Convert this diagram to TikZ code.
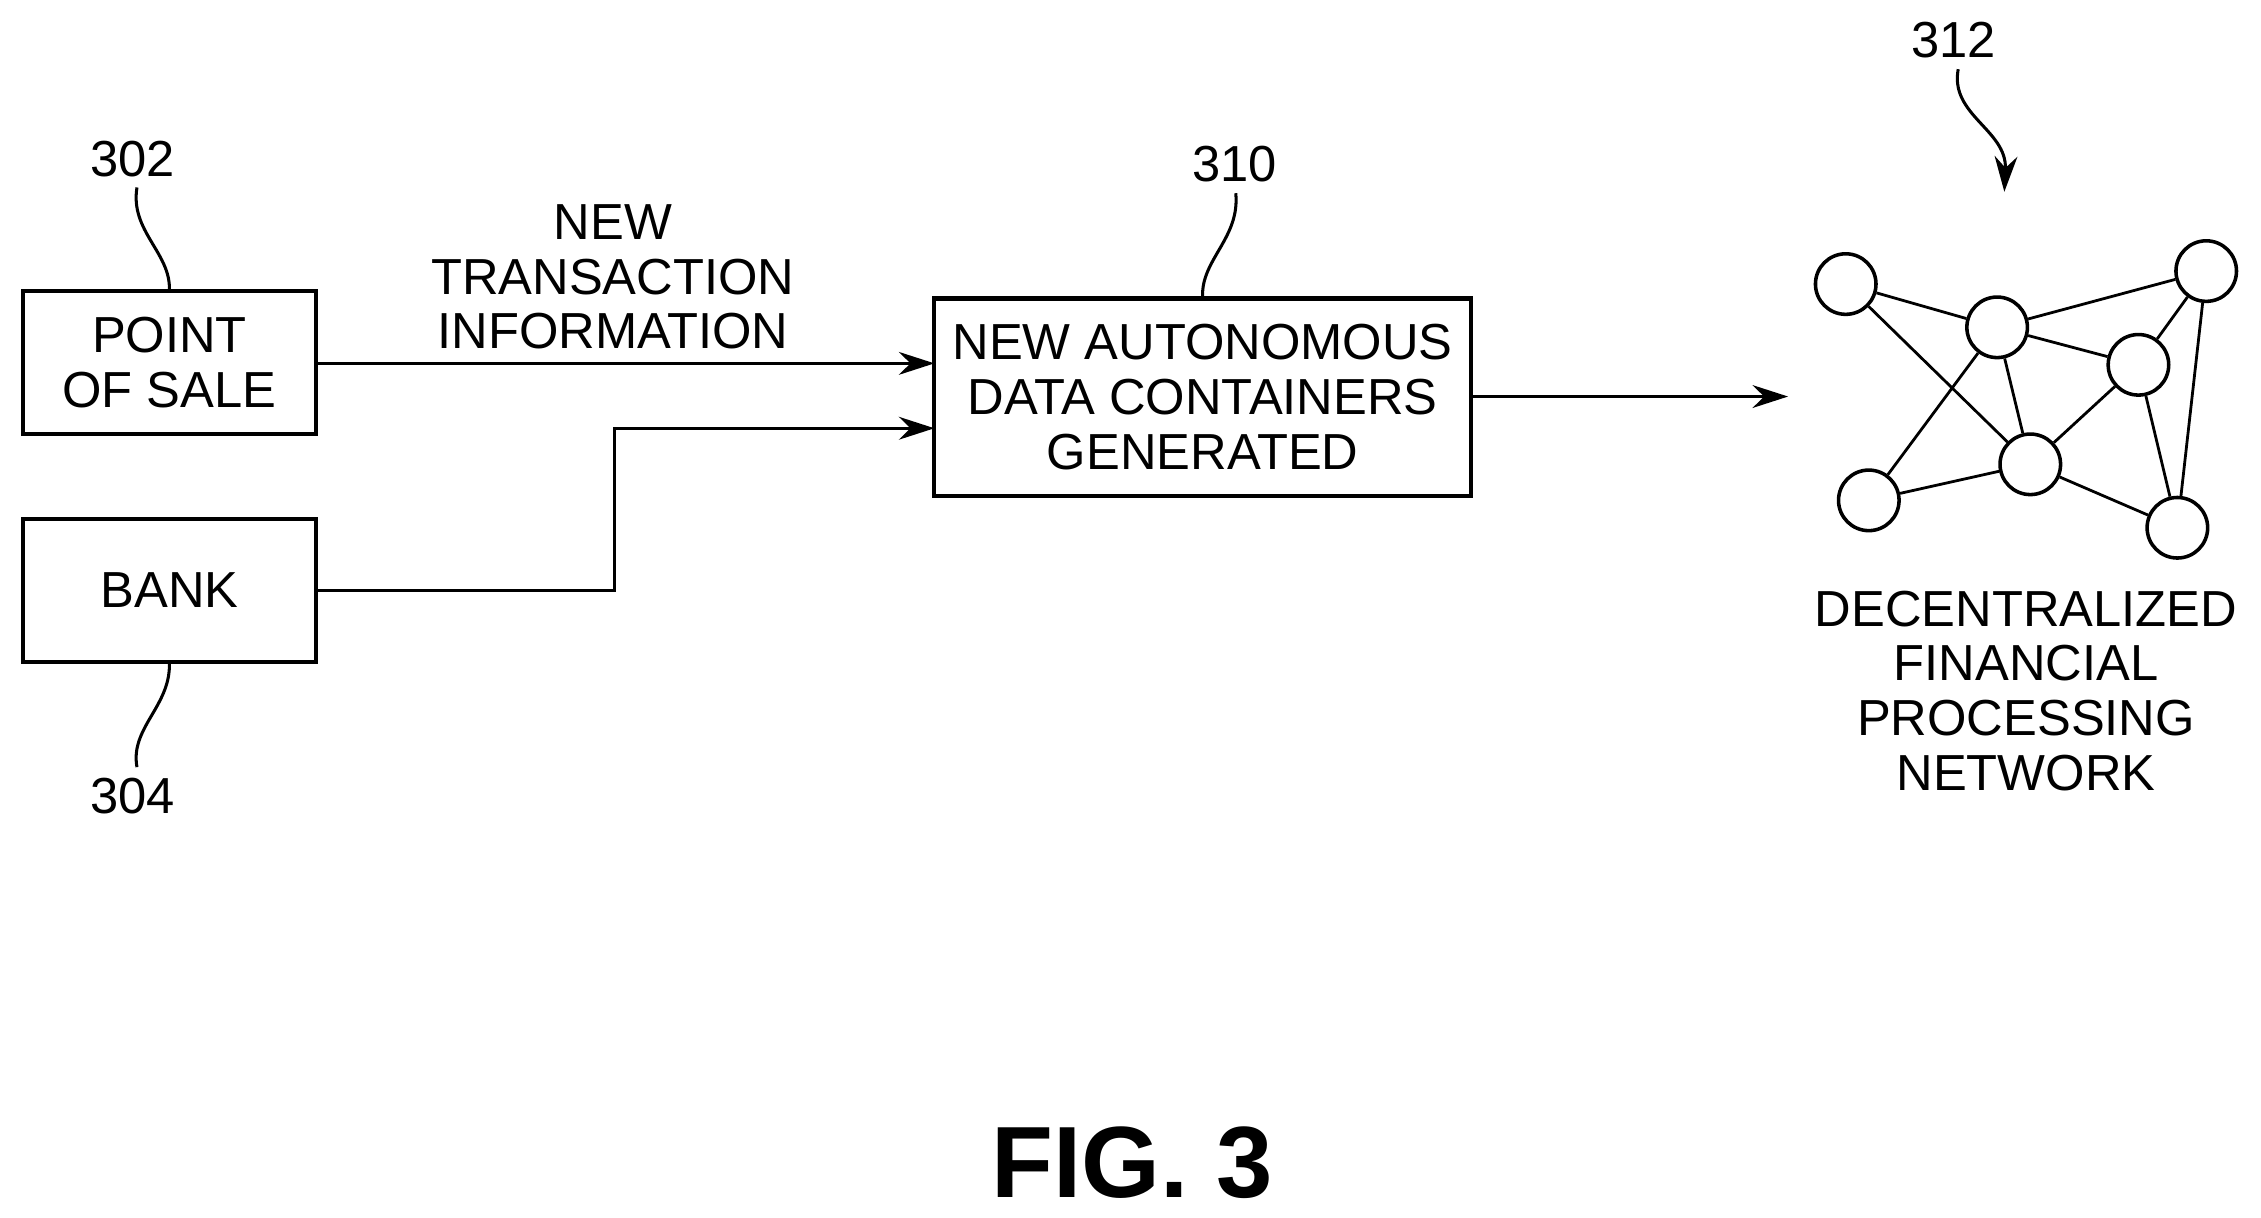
\documentclass[tikz,border=0pt]{standalone}
\usepackage{fontspec}
\setmainfont{Liberation Sans}
\usetikzlibrary{arrows.meta}
\begin{document}
\begin{tikzpicture}[x=0.02cm,y=-0.02cm,
  box/.style={draw,line width=1.6pt,inner sep=0pt},
  txt/.style={font=\fontsize{20}{21.6}\selectfont,align=center,inner sep=0pt},
  lbl/.style={font=\fontsize{20}{22}\selectfont,inner sep=0pt},
  conn/.style={line width=1.2pt,-{Stealth[length=14pt,width=9pt]}},
  lead/.style={line width=1.2pt},
  nd/.style={circle,draw,line width=1.4pt,minimum size=0.84cm,inner sep=0pt,fill=white},
  ed/.style={line width=1.1pt}]
\useasboundingbox (0,0) rectangle (1568,844);
\node[box,minimum width=4.06cm,minimum height=1.98cm] (pos) at (117.5,251.5) {};
\node[txt] at (pos) {POINT\\OF SALE};
\node[box,minimum width=4.06cm,minimum height=1.98cm] (bank) at (117.5,409.5) {};
\node[txt] at (bank) {BANK};
\node[box,minimum width=7.44cm,minimum height=2.74cm] (adc) at (834,275.5) {};
\node[txt] at (adc) {NEW AUTONOMOUS\\DATA CONTAINERS\\GENERATED};
\node[txt] (lab) at (425,192) {NEW\\TRANSACTION\\INFORMATION};
\coordinate (a1) at (648,252);
\coordinate (a2) at (648,297);
\draw[conn] (pos.east |- a1) -- (a1);
\draw[conn] (bank.east) -- (426,409.5) -- (426,297) -- (a2);
\coordinate (netin) at (1240,275);
\draw[conn] (adc.east |- netin) -- (netin);
\node[lbl] (l302) at (92,110) {302};
\node[lbl] (l304) at (92,552) {304};
\node[lbl] (l310) at (856,114) {310};
\node[lbl] (l312) at (1355,28) {312};
\draw[lead] (pos.north) .. controls (118,175) and (90,160) .. (95,130);
\draw[lead] (bank.south) .. controls (118,490) and (90,505) .. (95,532);
\draw[lead] (adc.north) .. controls (833,180) and (860,165) .. (857,134);
\coordinate (t312) at (1390,133);
\draw[conn] (1358,48) .. controls (1352,80) and (1392,90) .. (t312);
\node[nd] (n1) at (1280,197) {};
\node[nd] (n2) at (1385,227) {};
\node[nd] (n3) at (1530,188) {};
\node[nd] (n4) at (1483,253) {};
\node[nd] (n5) at (1408,322) {};
\node[nd] (n6) at (1296,347) {};
\node[nd] (n7) at (1510,366) {};
\begin{scope}[on background layer/.try]
\end{scope}
\foreach \a/\b in {n1/n2,n1/n5,n2/n3,n2/n4,n2/n6,n2/n5,n3/n4,n3/n7,n4/n5,n4/n7,n5/n6,n5/n7}
  \draw[ed] (\a) -- (\b);
\node[txt,align=center] (netl) at (1405,479) {DECENTRALIZED\\FINANCIAL\\PROCESSING\\NETWORK};
\node[font=\fontsize{40}{44}\selectfont\bfseries,inner sep=0pt] (fig) at (785,806) {FIG. 3};
\end{tikzpicture}
\end{document}
